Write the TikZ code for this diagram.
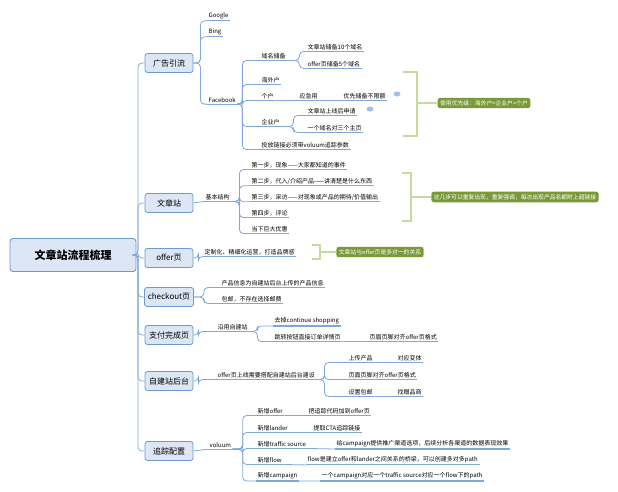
\documentclass[tikz,border=0pt]{standalone}
\usepackage{fontspec}
\usetikzlibrary{shapes.geometric}
\setmainfont{Noto Sans CJK SC}
\begin{document}
\begin{tikzpicture}[x=1pt,y=-1pt,
  conn/.style={draw=lineb,line width=0.8pt,rounded corners=4pt},
  uline/.style={draw=lineb,line width=1.1pt},
  tx/.style={anchor=west,inner sep=1.5pt,font=\fontsize{6}{7}\selectfont},
  lone/.style={draw=boxb,fill=boxf,rounded corners=2.5pt,line width=0.8pt,minimum width=48pt,minimum height=19pt,font=\fontsize{8}{9}\selectfont},
  summ/.style={fill=sumg,rounded corners=2.5pt,text=white,inner sep=2.5pt,font=\fontsize{5.8}{6.5}\selectfont\itshape},
  brk/.style={draw=brkg,line width=1.6pt},
  bub/.style={fill=bubb,draw=none,ellipse,minimum width=7pt,minimum height=5pt,inner sep=0pt}]
\definecolor{lineb}{HTML}{7FA7D9}
\definecolor{boxb}{HTML}{6D9BD1}
\definecolor{boxf}{HTML}{DCE6F4}
\definecolor{sumg}{HTML}{7A9A3A}
\definecolor{brkg}{HTML}{C5DBA0}
\definecolor{bubb}{HTML}{9DC3EC}
\useasboundingbox (0,0) rectangle (618,491);
% root
\node[draw=boxb,fill=boxf,rounded corners=3pt,line width=0.9pt,minimum width=126pt,minimum height=33pt,font=\fontsize{11}{13}\selectfont\bfseries] (root) at (73,255) {文章站流程梳理};
% level 1
\node[lone] (A) at (169,63) {广告引流};
\node[lone] (B) at (169,203) {文章站};
\node[lone] (C) at (169,258) {offer页};
\node[lone] (D) at (169,297) {checkout页};
\node[lone] (E) at (169,335) {支付完成页};
\node[lone] (F) at (169,381) {自建站后台};
\node[lone] (G) at (169,451) {追踪配置};
\foreach \n in {A,B,C,D,E,F,G} \draw[conn] (root.east) -- (138,255) |- (\n.west);
% 广告引流
\node[tx] (a1) at (207,16) {Google};
\node[tx] (a2) at (207,32) {Bing};
\node[tx] (a3) at (207,100) {Facebook};
\foreach \n in {a1,a2,a3} \draw[conn] (A.east) -- ++(7,0) |- (\n.south west);
\node[tx] (f1) at (260,56) {域名储备};
\node[tx] (f2) at (260,80) {海外户};
\node[tx] (f3) at (260,96) {个户};
\node[tx] (f4) at (260,122) {企业户};
\node[tx] (f5) at (260,145) {投放链接必须带voluum追踪参数};
\foreach \n in {f1,f2,f3,f4,f5} \draw[conn] (a3.south east) -- ++(5,0) |- (\n.south west);
\node[tx] (g1) at (306,47) {文章站储备10个域名};
\node[tx] (g2) at (306,64) {offer页储备5个域名};
\foreach \n in {g1,g2} \draw[conn] (f1.south east) -- ++(12,0) |- (\n.south west);
\node[tx] (h1) at (298,96) {应急用};
\draw[conn] (f3.south east) -- (h1.south west);
\node[tx] (h2) at (342,96) {优先储备不限额\hspace{16pt}};
\draw[conn] (h1.south east) -- (h2.south west);
\node[bub] at (397,94) {};
\node[tx] (k1) at (306,111) {文章站上线后申请\hspace{12pt}};
\node[bub] at (370,109) {};
\node[tx] (k2) at (306,128) {一个域名对三个主页};
\foreach \n in {k1,k2} \draw[conn] (f4.south east) -- ++(12,0) |- (\n.south west);
\node[summ] (s1) at (484,103) {使用优先级：海外户>企业户>个户};
\draw[brk] (403,72) -- (417,72) -- (417,136) -- (403,136);
\draw[brk] (417,103) -- (s1.west);
% 文章站
\node[tx] (b1) at (204,197) {基本结构};
\draw[conn] (B.east) -- (b1.south west);
\node[tx] (c1) at (250,165) {第一步，现象——大家都知道的事件};
\node[tx] (c2) at (250,181) {第二步，代入/介绍产品——讲清楚是什么东西};
\node[tx] (c3) at (250,197) {第三步，采访——对现象或产品的期待/价值输出};
\node[tx] (c4) at (250,213) {第四步，评论};
\node[tx] (c5) at (250,229) {当下巨大优惠};
\foreach \n in {c1,c2,c3,c4,c5} \draw[conn] (b1.south east) -- ++(8,0) |- (\n.south west);
\node[summ] (s2) at (515,197) {这几步可以重复出现，重复强调，每次出现产品名都附上超链接};
\draw[brk] (402,173) -- (411,173) -- (411,221) -- (402,221);
\draw[brk] (411,197) -- (s2.west);
% offer页
\node[tx] (o1) at (203,252) {定制化、精细化运营，打造品牌感};
\draw[conn] (C.east) -- ++(5,0) |- (o1.south west);
\node[summ] (s3) at (380,252) {文章站与offer页是多对一的关系};
\draw[brk] (312,245) -- (320,245) -- (320,259) -- (312,259);
\draw[brk] (320,252) -- (s3.west);
% checkout
\node[tx] (d1) at (220,283) {产品信息为自建站后台上传的产品信息};
\node[tx] (d2) at (220,299) {包邮，不存在选择邮费};
\foreach \n in {d1,d2} \draw[conn] (D.east) -- ++(10,0) |- (\n.south west);
% 支付完成页
\node[tx] (e1) at (216,327) {沿用自建站};
\draw[conn] (E.east) -- ++(5,0) |- (e1.south west);
\node[tx] (e2) at (273,321) {去掉continue shopping};
\node[tx] (e3) at (273,337) {跳转按钮直接订单详情页};
\foreach \n in {e2,e3} \draw[conn] (e1.south east) -- ++(8,0) |- (\n.south west);
\node[tx] (e4) at (368,337) {页眉页脚对齐offer页格式};
\draw[conn] (e3.south east) -- (e4.south west);
% 自建站后台
\node[tx] (p1) at (216,375) {offer页上线需要搭配自建站后台建设};
\draw[conn] (F.east) -- ++(5,0) |- (p1.south west);
\node[tx] (p2) at (347,358) {上传产品};
\node[tx] (p3) at (347,375) {页面页脚对齐offer页格式};
\node[tx] (p4) at (347,392) {设置包邮};
\foreach \n in {p2,p3,p4} \draw[conn] (p1.south east) -- ++(8,0) |- (\n.south west);
\node[tx] (p5) at (396,358) {对应变体};
\node[tx] (p6) at (396,392) {找赠品商};
\draw[conn] (p2.south east) -- (p5.south west);
\draw[conn] (p4.south east) -- (p6.south west);
% 追踪配置
\node[tx] (v1) at (208,445) {voluum};
\draw[conn] (G.east) -- (v1.south west);
\node[tx] (w1) at (256,411) {新增offer};
\node[tx] (w2) at (256,428) {新增lander};
\node[tx] (w3) at (256,444) {新增traffic source};
\node[tx] (w4) at (256,460) {新增flow};
\node[tx] (w5) at (256,476) {新增campaign};
\foreach \n in {w1,w2,w3,w4,w5} \draw[conn] (v1.south east) -- ++(10,0) |- (\n.south west);
\node[tx] (x1) at (307,411) {把追踪代码加到offer页};
\node[tx] (x2) at (312,428) {提取CTA追踪链接};
\node[tx] (x3) at (335,444) {给campaign提供推广渠道选项，后续分析各渠道的数据表现效果};
\node[tx] (x4) at (306,460) {flow是建立offer和lander之间关系的桥梁，可以创建多对多path};
\node[tx] (x5) at (320,476) {一个campaign对应一个traffic source对应一个flow下的path};
\foreach \a/\b in {w1/x1,w2/x2,w3/x3,w4/x4,w5/x5} \draw[conn] (\a.south east) -- (\b.south west);
% underlines
\foreach \n in {a1,a2,a3,f1,f2,f3,f4,f5,g1,g2,h1,h2,k1,k2,b1,c1,c2,c3,c4,c5,o1,d1,d2,e1,e2,e3,e4,p1,p2,p3,p4,p5,p6,v1,w1,w2,w3,w4,w5,x1,x2,x3,x4,x5}
  \draw[uline] (\n.south west) -- (\n.south east);
\end{tikzpicture}
\end{document}
